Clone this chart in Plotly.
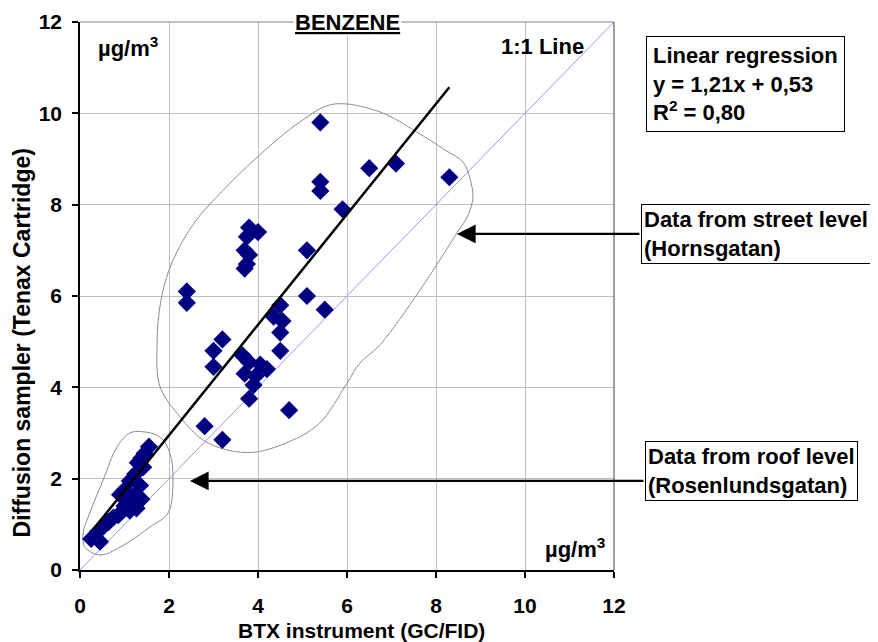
import plotly.graph_objects as go

# ---- data ----
street_x = [5.4, 6.5, 7.1, 8.3, 5.4, 5.4, 5.9, 3.8, 4.0, 3.75, 3.7, 3.8, 3.75, 3.7, 5.1, 2.4, 2.4, 5.1,
            4.5, 5.5, 4.35, 4.55, 4.5, 3.2, 3.0, 4.5, 3.0, 3.65, 3.8, 4.05, 4.2, 3.7, 3.95, 3.9, 3.8,
            4.7, 2.8, 3.2]
street_y = [9.8, 8.8, 8.9, 8.6, 8.5, 8.3, 7.9, 7.5, 7.4, 7.3, 7.0, 6.9, 6.7, 6.6, 7.0, 6.1, 5.85, 6.0,
            5.8, 5.7, 5.55, 5.45, 5.2, 5.05, 4.8, 4.8, 4.45, 4.7, 4.55, 4.5, 4.4, 4.3, 4.25, 4.05, 3.75,
            3.5, 3.15, 2.85]
roof_x = [1.55, 1.45, 1.38, 1.3, 1.42, 1.24, 1.12, 1.35, 1.0, 1.24, 1.38, 0.9, 1.08, 1.27, 0.75,
          0.64, 0.52, 0.41, 0.25, 0.45, 0.86, 1.0, 1.12]
roof_y = [2.7, 2.55, 2.45, 2.35, 2.25, 2.1, 1.95, 1.85, 1.75, 1.65, 1.55, 1.65, 1.5, 1.35, 1.15,
          1.05, 0.95, 0.85, 0.68, 0.62, 1.2, 1.4, 1.3]
reg_slope = 1.21
reg_intercept = 0.53
reg_x_range = [0.3, 8.3]
one_to_one = [0, 12]
tick_vals = [0, 2, 4, 6, 8, 10, 12]

# ---- outlines (annotation shapes, data coords) ----
street_outline = [(5.69, 10.2), (6.74, 10.03), (7.57, 9.59), (8.2, 9.2), (8.61, 8.93), (8.76, 8.58),
                  (8.83, 8.17), (8.72, 7.77), (8.47, 7.38), (7.64, 6.13), (6.74, 4.93), (6.29, 4.53),
                  (6.0, 4.09), (5.39, 3.22), (4.79, 2.85), (3.93, 2.58), (3.3, 2.63), (2.76, 2.85),
                  (2.25, 3.35), (1.8, 4.01), (1.73, 4.93), (1.82, 5.91), (2.07, 6.74), (2.58, 7.62),
                  (3.26, 8.36), (4.04, 9.09), (4.94, 9.81), (5.69, 10.2)]
roof_outline = [(1.39, 3.03), (1.8, 2.91), (2.02, 2.56), (2.09, 1.97), (1.98, 1.25), (1.57, 0.94),
                (0.9, 0.5), (0.45, 0.33), (0.11, 0.5), (0.07, 0.81), (0.22, 1.25), (0.52, 1.97),
                (0.83, 2.69), (1.12, 3.0), (1.39, 3.03)]

FONT = "Liberation Sans, Arial, sans-serif"
FS = 21
fig = go.Figure()

for outline in (street_outline, roof_outline):
    fig.add_trace(go.Scatter(x=[p[0] for p in outline], y=[p[1] for p in outline], mode="lines",
                             line=dict(color="#8c8c8c", width=1, shape="spline", smoothing=1.0),
                             hoverinfo="skip", showlegend=False))

fig.add_trace(go.Scatter(x=one_to_one, y=one_to_one, mode="lines",
                         line=dict(color="#9999ff", width=1), showlegend=False))

fig.add_trace(go.Scatter(x=street_x + roof_x, y=street_y + roof_y, mode="markers",
                         marker=dict(symbol="diamond", size=14, color="#000080", line=dict(width=0)),
                         showlegend=False))

fig.add_trace(go.Scatter(x=reg_x_range, y=[reg_slope * v + reg_intercept for v in reg_x_range],
                         mode="lines", line=dict(color="black", width=2.5), showlegend=False))

# frame top/right
fig.add_shape(type="line", xref="paper", yref="paper", x0=0, x1=1, y0=1, y1=1,
              line=dict(color="#808080", width=1))
fig.add_shape(type="line", xref="paper", yref="paper", x0=1, x1=1, y0=0, y1=1,
              line=dict(color="#404040", width=1))

bold = dict(family=FONT, size=FS, color="black", weight="bold")
big = dict(family=FONT, size=22, color="black", weight="bold")
ytitle_font = dict(family=FONT, size=23, color="black", weight="bold")
arrow = dict(showarrow=True, arrowhead=2, arrowsize=1.7, arrowwidth=2.2, arrowcolor="black")
anns = [
    dict(text="<u>BENZENE</u>", x=0.5, y=1.0, xref="paper", yref="paper", xanchor="center",
         yanchor="middle", showarrow=False, font=big, bgcolor="white", borderpad=1),
    dict(text="µg/m<sup>3</sup>", x=0.03, y=0.955, xref="paper", yref="paper",
         xanchor="left", yanchor="middle", showarrow=False, font=big),
    dict(text="1:1 Line", x=0.867, y=0.955, xref="paper", yref="paper", xanchor="center",
         yanchor="middle", showarrow=False, font=big),
    dict(text="µg/m<sup>3</sup>", x=0.987, y=0.04, xref="paper", yref="paper",
         xanchor="right", yanchor="middle", showarrow=False, font=big),
    dict(text="Linear regression<br>y = 1,21x + 0,53<br>R<sup>2</sup> = 0,80", x=1.06, y=0.974,
         xref="paper", yref="paper", xanchor="left", yanchor="top", align="left", showarrow=False,
         font=big, bordercolor="black", borderwidth=1, borderpad=6, bgcolor="white"),
    dict(text="Data from street level<br>(Hornsgatan)", x=1.051, y=0.668,
         xref="paper", yref="paper", xanchor="left", yanchor="top", align="left", showarrow=False,
         font=big, bordercolor="black", borderwidth=1, borderpad=2, bgcolor="white"),
    dict(text="Data from roof level<br>(Rosenlundsgatan)", x=1.058, y=0.235,
         xref="paper", yref="paper", xanchor="left", yanchor="top", align="left", showarrow=False,
         font=big, bordercolor="black", borderwidth=1, borderpad=2, bgcolor="white"),
    dict(text="", x=8.47, y=7.36, xref="x", yref="y", ax=184, ay=0, **arrow),
    dict(text="", x=2.47, y=1.95, xref="x", yref="y", ax=455, ay=0, **arrow),
    dict(text="Diffusion sampler (Tenax Cartridge)", x=-0.108, y=0.414, xref="paper",
         yref="paper", xanchor="center", yanchor="middle", textangle=-90, showarrow=False,
         font=ytitle_font),
    dict(text="BTX instrument (GC/FID)", x=0.528, y=-0.11, xref="paper", yref="paper",
         xanchor="center", yanchor="middle", showarrow=False, font=bold),
]
fig.update_layout(annotations=anns)

axis_common = dict(range=[0, 12], tickvals=tick_vals, showgrid=True, gridcolor="#c0c0c0",
                   gridwidth=1, zeroline=False, showline=True, linecolor="black", linewidth=1.5,
                   ticks="outside", ticklen=6, tickcolor="black", tickwidth=1.5, automargin=False,
                   tickfont=dict(family=FONT, size=FS, color="black", weight="bold"))
fig.update_xaxes(**axis_common, ticklabelstandoff=10)
fig.update_yaxes(**axis_common, ticklabelstandoff=6)

# body has an 8px margin in the page, so the figure is sized/offset for that
fig.update_layout(width=870, height=634, margin=dict(l=72, r=264, t=14, b=72),
                  plot_bgcolor="white", paper_bgcolor="white", showlegend=False,
                  font=dict(family=FONT, color="black"))

fig.write_html("out.html")
